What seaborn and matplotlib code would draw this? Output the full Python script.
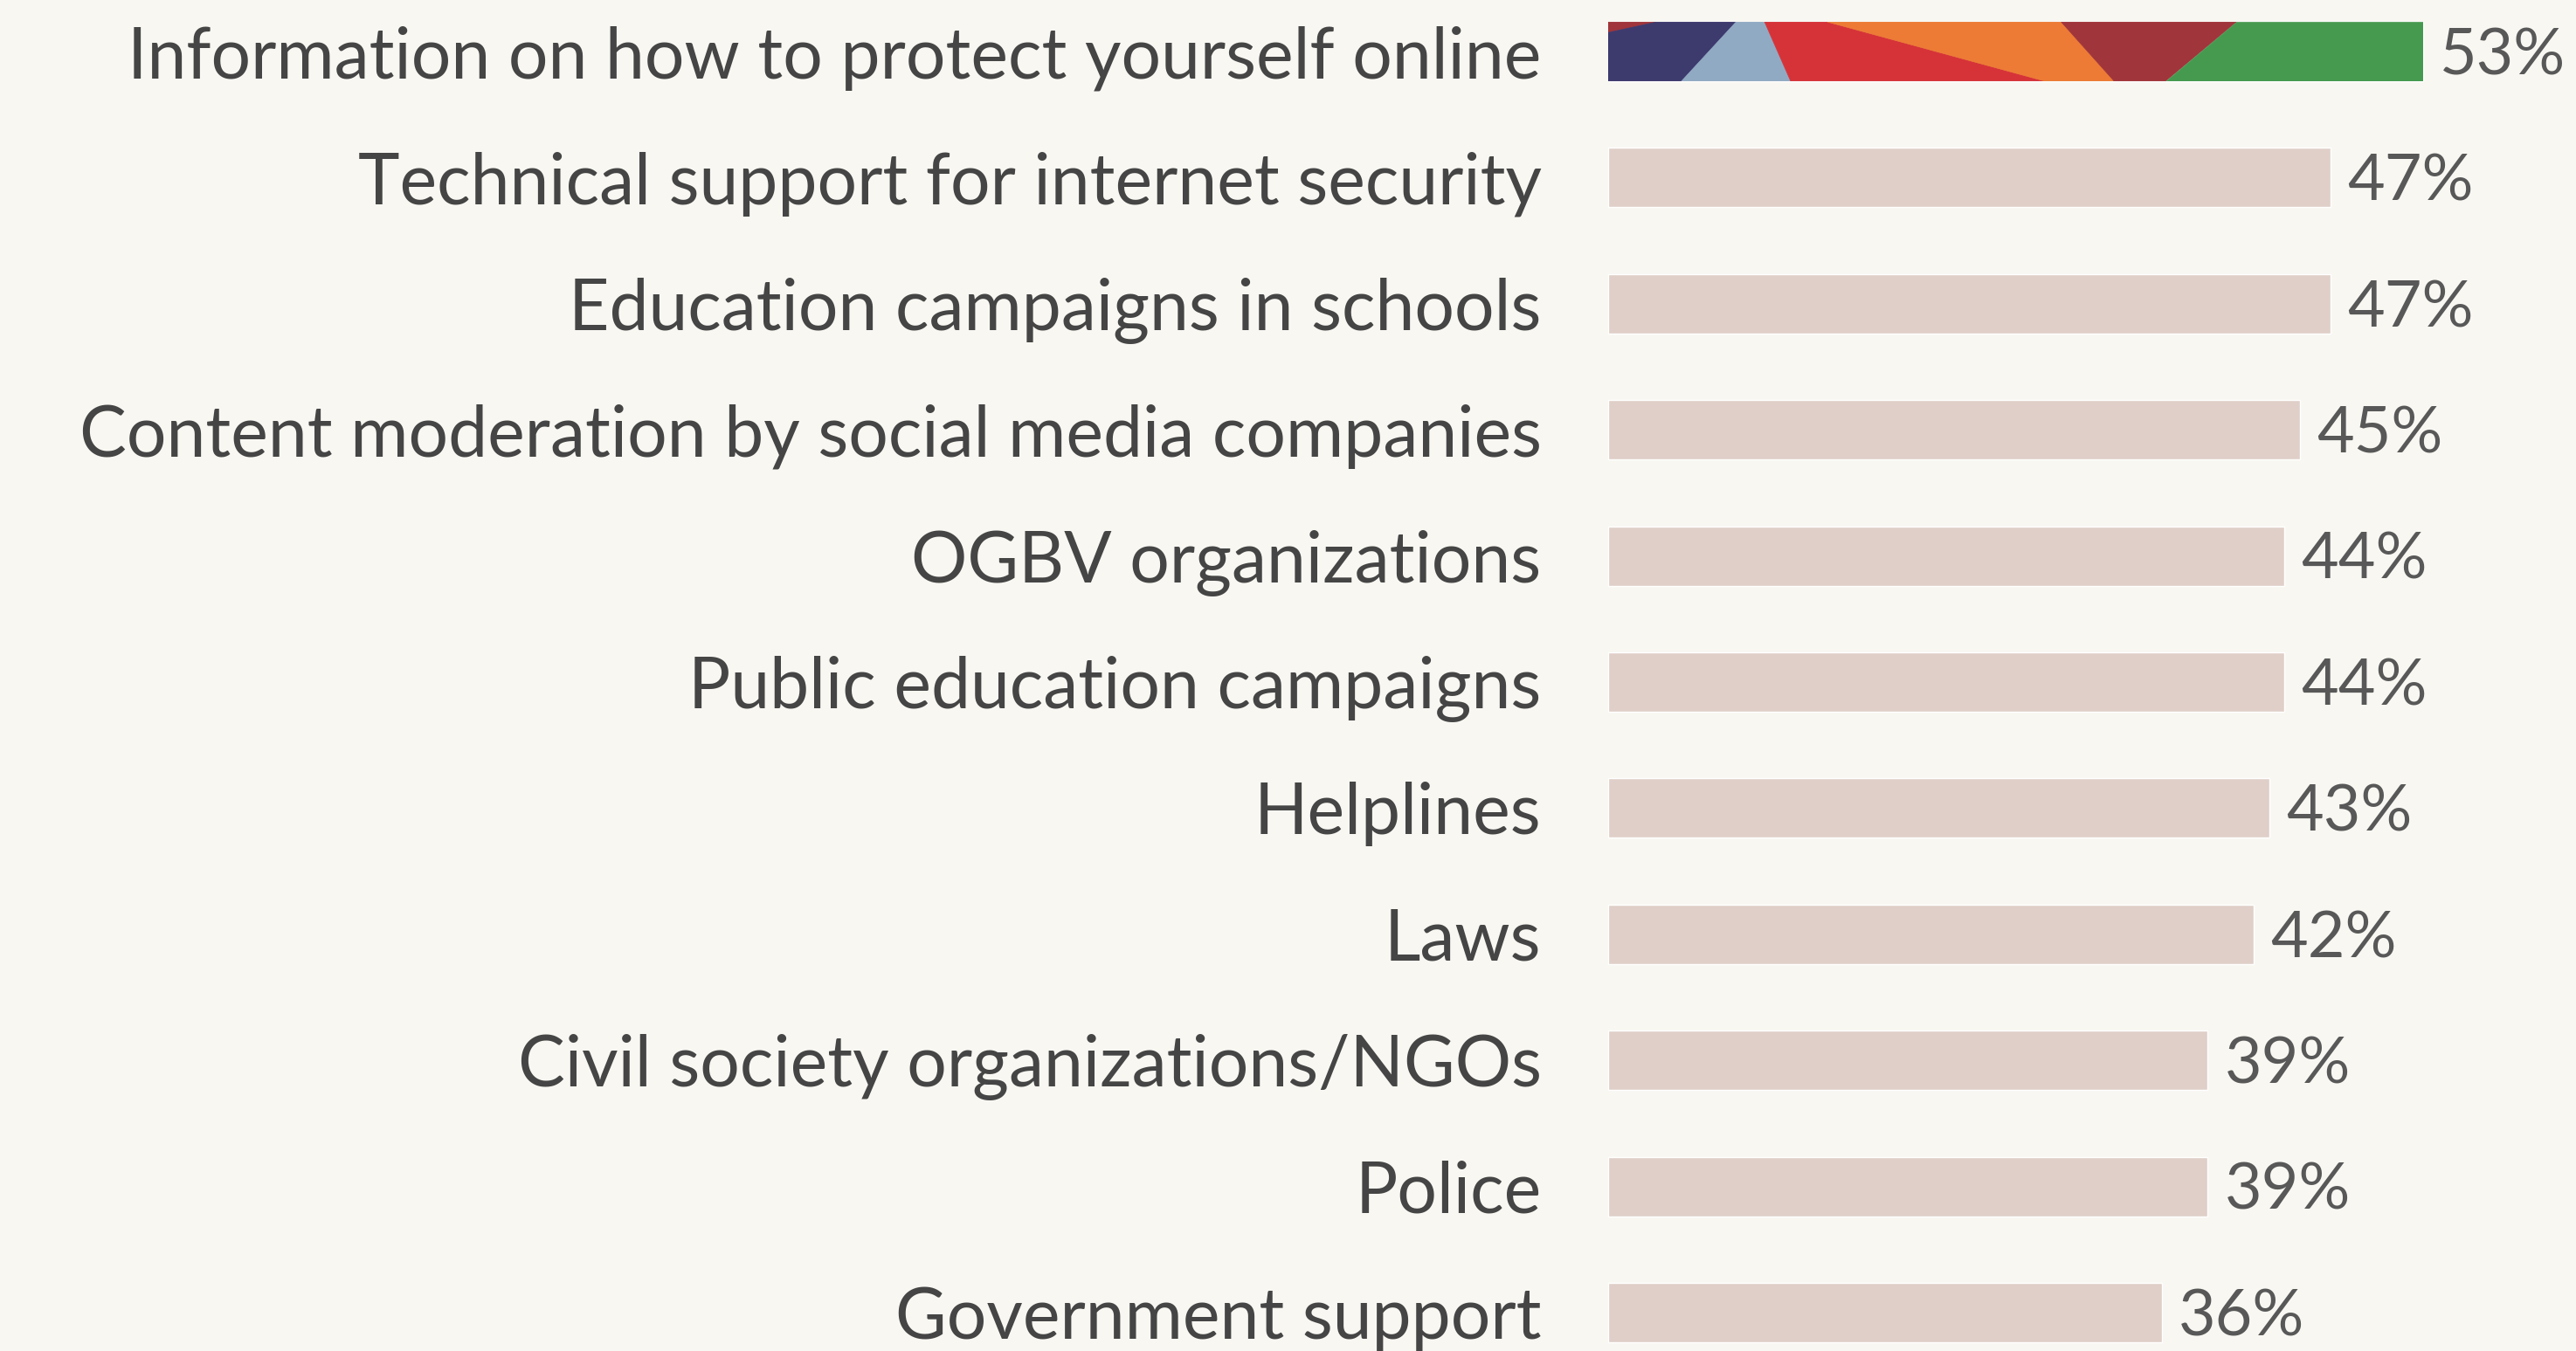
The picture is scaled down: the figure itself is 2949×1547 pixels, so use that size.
import numpy as np
import pandas as pd
import matplotlib.pyplot as plt
import seaborn as sns
from matplotlib.patches import Polygon

# data
categories = ["Information on how to protect yourself online",
              "Technical support for internet security",
              "Education campaigns in schools",
              "Content moderation by social media companies",
              "OGBV organizations",
              "Public education campaigns",
              "Helplines",
              "Laws",
              "Civil society organizations/NGOs",
              "Police",
              "Government support"]
values = [53, 47, 47, 45, 44, 44, 43, 42, 39, 39, 36]

bg = "#f8f7f2"
bar_color = "#dfcfc8"
text_color = "#454545"
value_color = "#585858"

# decorative pattern on the top bar: (colour, polygon in bar fractions, x along / y down)
pattern = [
    ("#a0353b", [(0, 0), (0.06, 0), (0, 0.18)]),
    ("#3d3a6e", [(0, 0.18), (0.06, 0), (0.157, 0), (0.09, 1), (0, 1)]),
    ("#91aac3", [(0.157, 0), (0.192, 0), (0.224, 1), (0.09, 1)]),
    ("#d63339", [(0.192, 0), (0.269, 0), (0.536, 1), (0.224, 1)]),
    ("#ed7b35", [(0.269, 0), (0.556, 0), (0.621, 1), (0.536, 1)]),
    ("#a0353b", [(0.556, 0), (0.771, 0), (0.684, 1), (0.621, 1)]),
    ("#469a50", [(0.771, 0), (1, 0), (1, 1), (0.684, 1)]),
]

df = pd.DataFrame({"cat": categories, "val": values})

sns.set_theme(style="white")
plt.rcParams["font.family"] = ["Lato", "DejaVu Sans"]

W, H = 2949, 1547
fig = plt.figure(figsize=(W / 100, H / 100), dpi=100, facecolor=bg)
x0 = 1841
xmax = 62
ppu = 17.6  # pixels per percent
ax = fig.add_axes([x0 / W, 0, xmax * ppu / W, 1])
ax.set_facecolor(bg)

bw = 0.47
sns.barplot(data=df, x="val", y="cat", orient="h", color=bar_color,
            width=bw, saturation=1, ax=ax)

# pattern on the first bar
top = ax.patches[0]
bx, by = top.get_x(), top.get_y()
bwid, bh = top.get_width(), top.get_height()
for col, pts in pattern:
    poly = [(bx + fx * bwid, by + fy * bh) for fx, fy in pts]
    p = Polygon(poly, closed=True, facecolor=col, edgecolor=col, lw=0.5)
    ax.add_patch(p)
    p.set_clip_path(top)

for i, v in enumerate(values):
    ax.text(v + 19 / ppu, i + 0.04, f"{v}%", va="center", ha="left",
            fontsize=53, color=value_color)

ax.set_xlim(0, xmax)
ax.set_ylim(10 + 44 / 144.4, -59 / 144.4)
ax.set_xlabel("")
ax.set_ylabel("")
ax.set_xticks([])
ax.tick_params(axis="y", length=0, pad=55, labelsize=58, labelcolor=text_color)
sns.despine(ax=ax, left=True, bottom=True)

fig.savefig("out.png", dpi=100, facecolor=bg)
